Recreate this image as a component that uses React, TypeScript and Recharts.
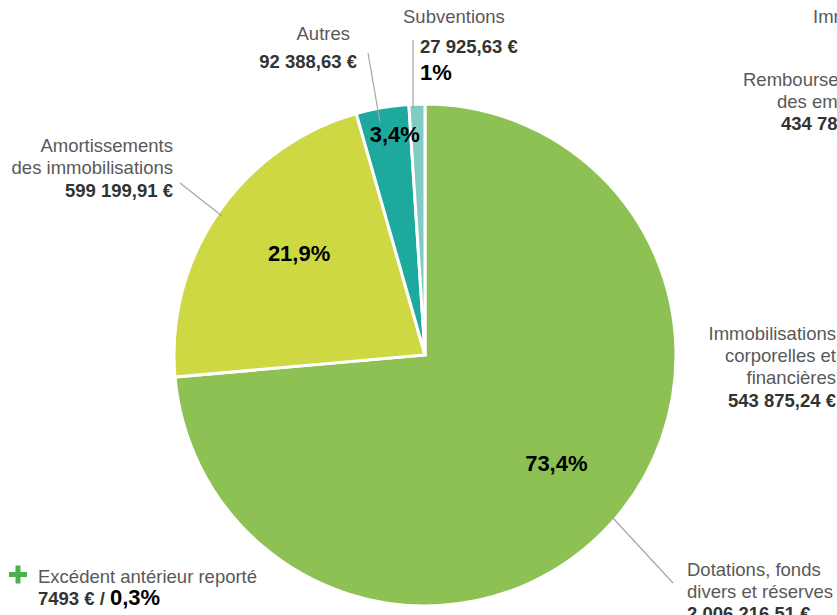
import { PieChart, Pie, Cell } from 'recharts';

// postes du financement (sens horaire depuis midi)
const categories = ['Dotations, fonds divers et réserves', 'Amortissements des immobilisations', 'Autres', 'Subventions'];
const amounts = [2006216.51, 599199.91, 92388.63, 27925.63];
const percentLabels = ['73,4%', '21,9%', '3,4%', '1%'];
const sliceColors = ['#8DC153', '#CDD843', '#1EA99F', '#80CBC4'];
// placement des pourcentages dans les parts (null = étiquette à part)
const labelRadius = [0.68, 0.645, 0.887, null];
const labelAngleShift = [2.8, -4.4, -2, 0];

const excedentLabel = 'Excédent antérieur reporté';
const excedentAmount = '7493 €';
const excedentPercent = '0,3%';

const FONT = '"Liberation Sans", Arial, sans-serif';
const GRAY = '#595959';
const DARK = '#333333';
const FS = 18.5;
const FS_PCT = 22;

const data = categories.map((name, i) => ({ name, value: amounts[i] }));

const RAD = Math.PI / 180;

function renderPercent(props: any) {
  const { cx, cy, midAngle, outerRadius, index } = props;
  const k = labelRadius[index];
  if (k == null) return null;
  const r = outerRadius * k;
  const a = midAngle + labelAngleShift[index];
  const x = cx + r * Math.cos(-a * RAD);
  const y = cy + r * Math.sin(-a * RAD);
  return (
    <text
      x={x}
      y={y}
      textAnchor="middle"
      dominantBaseline="central"
      fill="#000"
      fontFamily={FONT}
      fontWeight="bold"
      fontSize={FS_PCT}
    >
      {percentLabels[index]}
    </text>
  );
}

function Annotations() {
  const t = { fontFamily: FONT, fontSize: FS } as const;
  const line = { stroke: '#A6A6A6', strokeWidth: 1.2 };
  return (
    <svg
      width={837}
      height={615}
      style={{ position: 'absolute', left: 0, top: 0, pointerEvents: 'none' }}
    >
      {/* Subventions */}
      <text x={403} y={23} fill={GRAY} {...t}>Subventions</text>
      <text x={420} y={53} fill={DARK} {...t} fontWeight="bold">27 925,63 €</text>
      <text x={420} y={80} fill="#000" fontFamily={FONT} fontSize={FS_PCT} fontWeight="bold">{percentLabels[3]}</text>
      <line x1={413} y1={40} x2={413} y2={108} {...line} />

      {/* Autres */}
      <text x={350} y={40} textAnchor="end" fill={GRAY} {...t}>Autres</text>
      <text x={357} y={68} textAnchor="end" fill={DARK} {...t} fontWeight="bold">92 388,63 €</text>
      <line x1={368} y1={53} x2={380} y2={122} {...line} />

      {/* Amortissements */}
      <text x={173} y={152} textAnchor="end" fill={GRAY} {...t}>Amortissements</text>
      <text x={173} y={174} textAnchor="end" fill={GRAY} {...t}>des immobilisations</text>
      <text x={173} y={197} textAnchor="end" fill={DARK} {...t} fontWeight="bold">599 199,91 €</text>
      <line x1={180} y1={183} x2={222} y2={216} {...line} />

      {/* Immobilisations corporelles */}
      <text x={836} y={340} textAnchor="end" fill={GRAY} {...t}>Immobilisations</text>
      <text x={836} y={362} textAnchor="end" fill={GRAY} {...t}>corporelles et</text>
      <text x={836} y={384} textAnchor="end" fill={GRAY} {...t}>financières</text>
      <text x={836} y={407} textAnchor="end" fill={DARK} {...t} fontWeight="bold">543 875,24 €</text>

      {/* Remboursements (coupé par le bord) */}
      <text x={743} y={86} fill={GRAY} {...t}>Remboursements</text>
      <text x={777} y={108} fill={GRAY} {...t}>des emprunts</text>
      <text x={781} y={130} fill={DARK} {...t} fontWeight="bold">434 78</text>

      {/* Immobilisations incorporelles (coupé par le bord) */}
      <text x={813} y={23} fill={GRAY} {...t}>Immobilisations</text>

      {/* Dotations */}
      <text x={687} y={576} fill={GRAY} {...t}>Dotations, fonds</text>
      <text x={687} y={598} fill={GRAY} {...t}>divers et réserves</text>
      <text x={687} y={620} fill={DARK} {...t} fontWeight="bold">2 006 216,51 €</text>
      <line x1={612} y1={517} x2={673} y2={583} {...line} />

      {/* Excédent */}
      <rect x={9} y={572} width={18} height={5} fill="#4CAF50" />
      <rect x={15.5} y={565.5} width={5} height={18} fill="#4CAF50" />
      <text x={38} y={583} fill={GRAY} {...t}>{excedentLabel}</text>
      <text x={38} y={605} fill={DARK} fontFamily={FONT} fontWeight="bold">
        <tspan fontSize={FS}>{excedentAmount} / </tspan>
        <tspan fontSize={FS_PCT} fill="#000">{excedentPercent}</tspan>
      </text>
    </svg>
  );
}

export default function App() {
  return (
    <div
      style={{
        position: 'absolute',
        left: 0,
        top: 0,
        width: 837,
        height: 615,
        overflow: 'hidden',
        background: '#fff',
      }}
    >
      <PieChart width={837} height={615} margin={{ top: 0, right: 0, bottom: 0, left: 0 }}>
        <Pie
          data={data}
          dataKey="value"
          nameKey="name"
          cx={425}
          cy={355}
          outerRadius={251}
          startAngle={90}
          endAngle={-270}
          stroke="#fff"
          strokeWidth={3}
          label={renderPercent}
          labelLine={false}
          isAnimationActive={false}
        >
          {data.map((d, i) => (
            <Cell key={d.name} fill={sliceColors[i]} />
          ))}
        </Pie>
      </PieChart>
      <Annotations />
    </div>
  );
}
